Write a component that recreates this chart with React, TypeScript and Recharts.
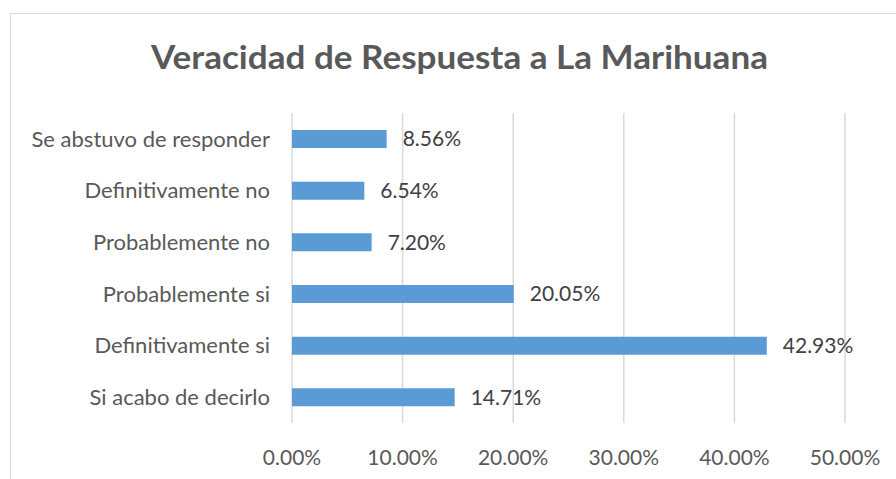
import React from 'react';
import { BarChart, Bar, XAxis, YAxis, CartesianGrid, LabelList } from 'recharts';

const categories = [
  'Se abstuvo de responder',
  'Definitivamente no',
  'Probablemente no',
  'Probablemente si',
  'Definitivamente si',
  'Si acabo de decirlo',
];
const shares = [0.0856, 0.0654, 0.072, 0.2005, 0.4293, 0.1471];
const xTicks = [0, 0.1, 0.2, 0.3, 0.4, 0.5];

const data = categories.map((name, i) => ({ name, value: shares[i] }));

const pct = (v: number) => `${(v * 100).toFixed(2)}%`;
const FONT = 'Lato, "Open Sans", sans-serif';

export default function App() {
  return (
    <div style={{ position: 'absolute', left: 0, top: 0, width: 896, height: 479, overflow: 'hidden', background: '#fff', fontFamily: FONT }}>
      <div style={{ position: 'absolute', left: 10, top: 13, width: 920, height: 520, border: '1px solid #d9d9d9' }} />
      <svg width={896} height={90} style={{ position: 'absolute', left: 0, top: 0 }}>
        <text x={459.5} y={69} textAnchor="middle" textLength={617} lengthAdjust="spacingAndGlyphs"
          fontFamily={FONT} fontWeight="bold" fontSize={32} fill="#595959">
          Veracidad de Respuesta a La Marihuana
        </text>
      </svg>
      <div style={{ position: 'absolute', left: 0, top: 0 }}>
        <BarChart width={896} height={479} data={data} layout="vertical"
          margin={{ top: 113, right: 51, bottom: 0, left: 0 }}>
          <CartesianGrid horizontal={false} stroke="#d9d9d9" strokeWidth={1.5} />
          <XAxis type="number" domain={[0, 0.5]} ticks={xTicks} tickFormatter={pct}
            axisLine={false} tickLine={false} height={56} tickMargin={21}
            tick={{ fill: '#595959', fontSize: 21, fontFamily: FONT }} />
          <YAxis type="category" dataKey="name" width={292} axisLine={false} tickLine={false}
            tickMargin={16} tick={{ fill: '#595959', fontSize: 22, fontFamily: FONT }} />
          <Bar dataKey="value" fill="#5b9bd5" barSize={18} isAnimationActive={false}>
            <LabelList dataKey="value" position="right" offset={16} formatter={(v: any) => pct(Number(v))}
              fill="#404040" fontSize={21} fontFamily={FONT} />
          </Bar>
        </BarChart>
      </div>
    </div>
  );
}
